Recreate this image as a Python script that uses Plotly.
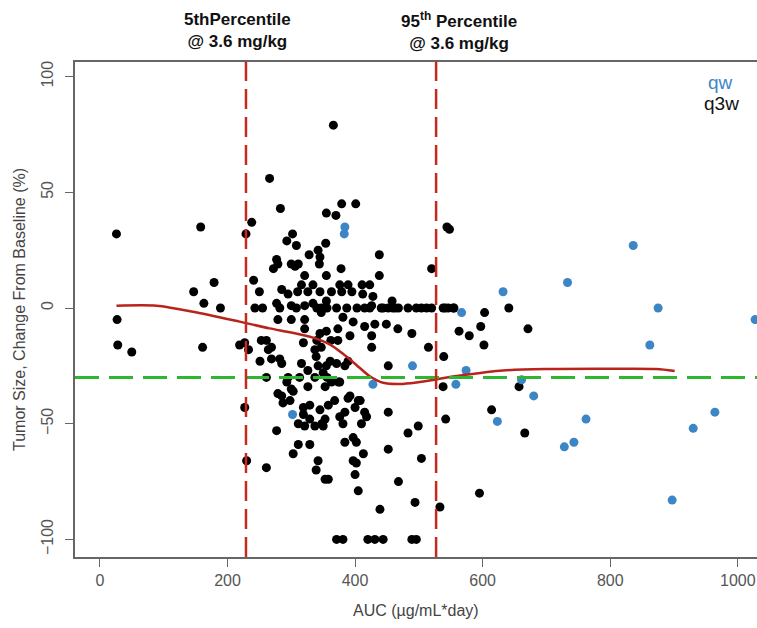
import plotly.graph_objects as go

# ---- data ----
AUC_Q3W = [26, 27, 28, 50, 147, 158, 163, 179, 189, 161, 219,
           229, 238, 227, 233, 227, 230,
           366, 266, 283, 355, 379, 401, 370, 544, 302, 293, 308, 354, 342, 328, 345, 277, 300, 272, 306, 344,
           438, 438, 520, 241, 321, 355, 378, 250, 279, 311,
           285, 295, 310, 326, 345, 363, 379, 395, 412, 428,
           316, 334, 376, 389, 411, 423,
           243, 255, 282, 308, 340, 356, 371, 387, 403, 423, 444, 452, 459, 463, 468, 483, 496, 504, 512, 520, 538, 546, 554,
           277, 300, 321, 334, 347, 355, 415, 426, 441, 458,
           279, 300, 321, 347, 381, 397, 415, 431, 449, 467,
           321, 345, 355, 373, 489,
           253, 261, 319, 340, 347, 362, 373, 392, 426, 426, 269, 515,
           264, 251, 282, 269, 316, 339, 342, 355, 337, 384, 371, 452, 361, 389, 285,
           261, 295, 313, 326, 337, 350, 376, 363, 356,
           279, 293, 287, 303, 326, 353, 374, 300, 285, 538,
           298, 319, 329, 345, 358, 353, 329, 319, 311, 321, 337, 350, 277, 368, 392, 408, 376, 381, 400, 415, 410, 452,
           397, 389, 405, 384, 418,
           348, 483, 499, 311, 329, 303, 384, 402, 452, 413, 504, 261, 342, 339, 397, 402, 353, 358, 400, 468, 405,
           494, 439, 533,
           371, 381, 420, 431, 444, 489, 496,
           548, 541, 555, 603, 641, 563, 579, 597, 602, 671, 539, 657, 542, 614, 666, 595]
TUMOR_Q3W = [32, -5, -16, -19, 7, 35, 2, 11, 0, -17, -16,
             32, 37, -15, -18, -43, -66,
             79, 56, 43, 41, 45, 45, 40, 35, 32, 29, 27, 28, 25, 23, 22, 21, 19, 17, 18, 19,
             23, 14, 17, 12, 14, 14, 17, 7, 19, 19,
             8, 6, 7, 7, 7, 7, 7, 7, 6, 5,
             10, 10, 10, 10, 10, 10,
             0, 0, 0, 0, 0, 0, 0, 0, 0, 0, 0, 0, 0, 0, 0, 0, 0, 0, 0, 0, 0, 0, 0,
             2, 1, 1, 2, 0, 3, 0, 1, 0, 3,
             -5, -5, -5, -2, -4, -6, -8, -7, -7, -9,
             -9, -11, -10, -9, -11,
             -14, -14, -15, -14, -17, -14, -14, -12, -12, -17, -17, -17,
             -18, -23, -22, -22, -24, -21, -25, -25, -18, -25, -24, -25, -23, -23, -24,
             -30, -30, -30, -27, -30, -28, -32, -32, -30,
             -37, -32, -41, -36, -34, -34, -32, -35, -38, -34,
             -40, -43, -42, -44, -42, -48, -48, -46, -50, -51, -51, -51, -53, -40, -38, -40, -47, -50, -43, -45, -50, -45,
             -56, -39, -40, -45, -47,
             -50, -54, -51, -59, -59, -63, -58, -58, -61, -63, -65, -69, -66, -70, -66, -67, -74, -74, -72, -75, -79,
             -84, -87, -86,
             -100, -100, -100, -100, -100, -100, -100,
             34, 0, 0, -2, 0, -10, -12, -8, -16, -9, -21, -34, -48, -44, -54, -80]

AUC_QW = [384, 383, 490, 428, 302, 836, 733, 632, 875, 567, 1027, 862, 574, 558, 661, 680, 623, 762, 728, 743, 964, 930, 897]
TUMOR_QW = [35, 32, -25, -33, -46, 27, 11, 7, 0, -2, -5, -16, -27, -33, -31, -38, -49, -48, -60, -58, -45, -52, -83]

SMOOTH_AUC = [26, 89, 146, 219, 266, 300, 334, 361, 381, 402, 423, 444, 475, 507, 528, 570, 632, 700, 800, 872, 901]
SMOOTH_Y = [1, 1, -1.6, -5.9, -8.8, -10.6, -12.8, -15.8, -19.8, -24.6, -29.5, -32.3, -32.8, -31.8, -30.8, -29, -27, -26.4, -26.3, -26.4, -27.2]

P5_AUC = 229
P95_AUC = 527
THRESH = -30

X_TICKS = [0, 200, 400, 600, 800, 1000]
Y_TICKS = [-100, -50, 0, 50, 100]
X_RANGE = [-39, 1030]
Y_RANGE = [-107.6, 106.3]

FONT = "Liberation Sans Narrow, Arial Narrow, Liberation Sans, Arial, sans-serif"
RED = "#c62a1f"
GREEN = "#2fb52f"
BLUE = "#3d86c6"

fig = go.Figure()

fig.add_trace(go.Scatter(x=AUC_Q3W, y=TUMOR_Q3W, mode="markers",
                         marker=dict(color="#000000", size=9), showlegend=False, cliponaxis=True))
fig.add_trace(go.Scatter(x=AUC_QW, y=TUMOR_QW, mode="markers",
                         marker=dict(color=BLUE, size=9), showlegend=False, cliponaxis=True))
fig.add_trace(go.Scatter(x=SMOOTH_AUC, y=SMOOTH_Y, mode="lines",
                         line=dict(color="#b8241c", width=2.5, shape="spline", smoothing=0.8), showlegend=False))

# threshold and percentile lines
fig.add_shape(type="line", xref="paper", x0=0, x1=1, yref="y", y0=THRESH, y1=THRESH,
              line=dict(color=GREEN, width=3, dash="24px,10px"))
for xv in (P5_AUC, P95_AUC):
    fig.add_shape(type="line", xref="x", x0=xv, x1=xv, yref="paper", y0=0, y1=1,
                  line=dict(color=RED, width=2.5, dash="20px,8px"))

# top annotations
fig.add_annotation(x=215, xref="x", y=1.063, yref="paper", yanchor="middle", showarrow=False,
                   text="<b>5thPercentile<br>@ 3.6 mg/kg</b>", align="center",
                   font=dict(family=FONT, size=17, color="#111"))
fig.add_annotation(x=563, xref="x", y=1.063, yref="paper", yanchor="middle", showarrow=False,
                   text="<b>95<sup>th</sup> Percentile<br>@ 3.6 mg/kg</b>", align="center",
                   font=dict(family=FONT, size=17, color="#111"))

# legend text
fig.add_annotation(x=0.925, xref="paper", y=0.958, yref="paper", yanchor="middle", showarrow=False,
                   text="qw", xanchor="left", font=dict(family="Liberation Sans, Arial", size=19, color=BLUE))
fig.add_annotation(x=0.92, xref="paper", y=0.917, yref="paper", yanchor="middle", showarrow=False,
                   text="q3w", xanchor="left", font=dict(family="Liberation Sans, Arial", size=19, color="#111"))

# axis titles
fig.add_annotation(x=(416 - 75) / 682, xref="paper", y=-(610 - 557) / 495, yref="paper",
                   xanchor="center", yanchor="middle", showarrow=False,
                   text="AUC (µg/mL*day)", font=dict(family=FONT, size=16, color="#444"))
fig.add_annotation(x=-(75 - 19) / 682, xref="paper", y=(557 - 310) / 495, yref="paper",
                   xanchor="center", yanchor="middle", showarrow=False, textangle=-90,
                   text="Tumor Size, Change From Baseline (%)", font=dict(family=FONT, size=16, color="#444"))

fig.update_xaxes(range=X_RANGE, tickvals=X_TICKS, ticks="outside", ticklen=8, tickcolor="#666",
                 showline=True, linecolor="#666", linewidth=1.5, mirror=True,
                 showgrid=False, zeroline=False, automargin=False,
                 tickfont=dict(family=FONT, size=16, color="#555"))
fig.update_yaxes(range=Y_RANGE, tickvals=Y_TICKS, ticks="outside", ticklen=8, tickcolor="#666",
                 showline=True, linecolor="#666", linewidth=1.5,
                 showgrid=False, zeroline=False, tickangle=-90, automargin=False,
                 ticklabelstandoff=6,
                 tickfont=dict(family=FONT, size=16, color="#555"))

fig.update_layout(width=757, height=628, plot_bgcolor="white", paper_bgcolor="white",
                  margin=dict(l=75, r=0, t=62, b=71), showlegend=False)

# remove the page's default body margin so the figure fills the window exactly
fig.write_html("out.html", config={"displayModeBar": False},
               post_script="document.body.style.margin='0';document.body.style.overflow='hidden';")
